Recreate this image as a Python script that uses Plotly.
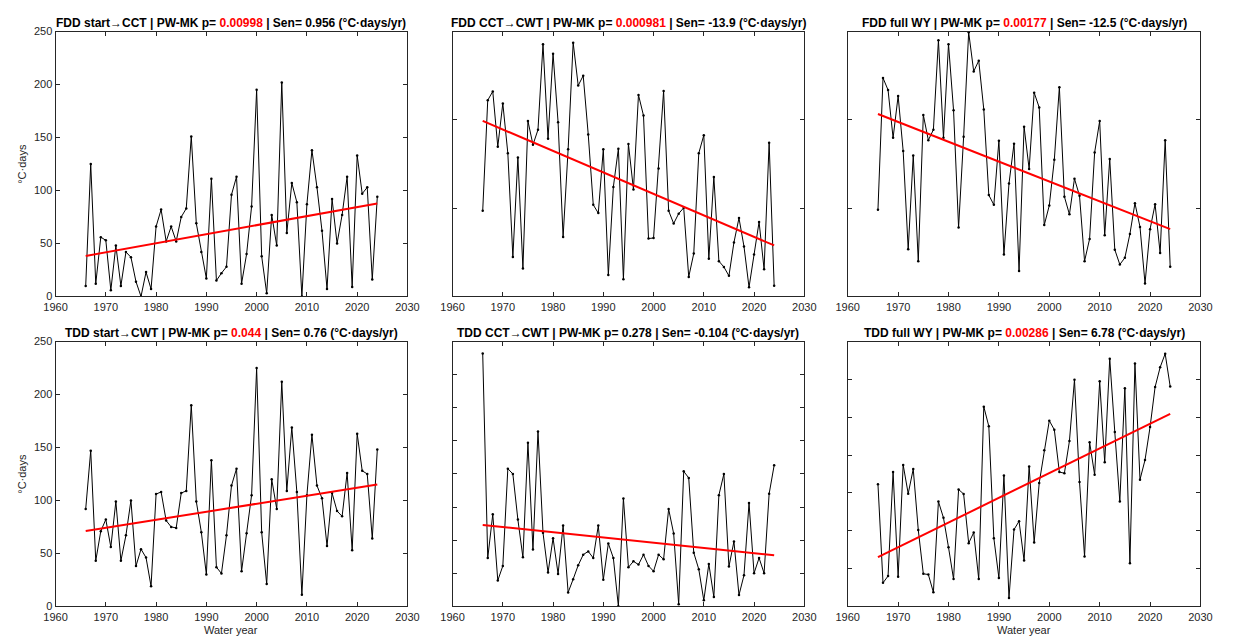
import plotly.graph_objects as go

# ---------------- data ----------------
years = list(range(1966, 2025))

fdd_start_cct = [10, 125, 12, 56, 53, 6, 48, 10, 42, 37,
                 14, 0, 23, 7, 66, 82, 52, 66, 52, 75,
                 83, 151, 69, 42, 17, 111, 15, 22, 28, 96,
                 113, 12, 40, 85,
                 195, 38, 3, 77, 48, 202, 60, 107, 89, 0,
                 87, 138, 103, 62, 7, 92, 50, 77, 113, 9,
                 133, 97, 103, 16, 94]

fdd_cct_cwt = [485, 1111, 1161, 848, 1093, 811, 224, 787, 159, 993,
               859, 944, 1428, 893, 1374, 987, 337, 833, 1437, 1194,
               1250, 917, 519, 472, 833, 122, 620, 837, 98, 863,
               606, 1141, 1024, 328,
               331, 724, 1163, 485, 413, 469, 502, 111, 243, 811,
               913, 213, 676, 200, 167, 117, 306, 444, 283, 52,
               237, 422, 154, 870, 61]

fdd_full_wy = [491, 1237, 1169, 898, 1135, 824, 268, 798, 200, 1028,
               885, 944, 1450, 898, 1428, 1054, 391, 904, 1496, 1274,
               1335, 1059, 574, 519, 882, 237, 639, 865, 144, 961,
               722, 1154, 1070, 404,
               515, 774, 1185, 565, 465, 667, 570, 200, 326, 815,
               993, 346, 778, 265, 181, 219, 354, 528, 394, 74,
               381, 522, 246, 885, 168]

tdd_start_cwt = [92, 147, 43, 71, 82, 56, 99, 43, 67, 100,
                 38, 54, 46, 19, 106, 108, 81, 75, 74, 107,
                 109, 190, 99, 70, 30, 138, 37, 31, 67, 114,
                 130, 33, 69, 105,
                 225, 70, 21, 120, 92, 212, 109, 169, 108, 11,
                 105, 162, 114, 102, 57, 107, 90, 85, 126, 53,
                 163, 128, 125, 64, 148]

tdd_cct_cwt = [38.2, 7.3, 13.9, 3.9, 6.1, 20.8, 20.0, 13.1, 7.4, 24.7,
               8.6, 26.4, 11.1, 5.1, 10.3, 4.9, 12.2, 2.1, 4.1, 6.2,
               7.8, 8.3, 7.3, 12.2, 4.0, 9.5, 7.3, 0.0, 16.3, 5.9,
               6.8, 6.3, 7.8, 6.1,
               5.3, 7.8, 7.1, 14.7, 11.0, 0.3, 20.4, 19.4, 8.1, 5.6,
               0.9, 6.4, 1.4, 16.8, 20.0, 6.0, 9.8, 1.7, 4.7, 15.6,
               5.0, 7.3, 5.0, 17.0, 21.3]

tdd_full_wy = [323, 62, 80, 355, 78, 374, 298, 363, 202, 86,
               84, 37, 277, 234, 156, 72, 309, 297, 167, 195,
               72, 528, 476, 180, 75, 346, 22, 203, 225, 121,
               370, 169, 326, 413,
               491, 467, 355, 352, 437, 599, 329, 132, 434, 348,
               595, 381, 655, 461, 277, 577, 114, 642, 335, 387,
               474, 580, 632, 668, 581]

# Sen trend line values at first and last water year
trend_fdd_start_cct = [38.3, 87.8]
trend_fdd_cct_cwt = [994, 289]
trend_fdd_full_wy = [1033, 381]
trend_tdd_start_cwt = [71.1, 115]
trend_tdd_cct_cwt = [12.3, 7.7]
trend_tdd_full_wy = [130, 509]

titles = ["FDD start\u2192CCT", "FDD CCT\u2192CWT", "FDD full WY",
          "TDD start\u2192CWT", "TDD CCT\u2192CWT", "TDD full WY"]
p_values = ["0.00998", "0.000981", "0.00177", "0.044", "0.278", "0.00286"]
p_significant = [True, True, True, True, False, True]
sen_slopes = ["0.956", "-13.9", "-12.5", "0.76", "-0.104", "6.78"]

x_ticks = [1960, 1970, 1980, 1990, 2000, 2010, 2020, 2030]
y_ranges = [[0, 250], [0, 1500], [0, 1500], [0, 250], [0, 40], [0, 700]]
y_dticks = [50, 500, 500, 50, 5, 100]

series = [fdd_start_cct, fdd_cct_cwt, fdd_full_wy,
          tdd_start_cwt, tdd_cct_cwt, tdd_full_wy]
trends = [trend_fdd_start_cct, trend_fdd_cct_cwt, trend_fdd_full_wy,
          trend_tdd_start_cwt, trend_tdd_cct_cwt, trend_tdd_full_wy]

# ---------------- layout geometry (pixels) ----------------
W, H = 1235, 644
col_px = [(44.4, 403.3), (449.3, 808.0), (852.3, 1212.0)]
row_px = [(26.0, 296.0), (342.0, 611.7)]

axis_col = "#262626"
font_family = "Liberation Sans, Arial, sans-serif"

fig = go.Figure()
layout = dict(
    width=W, height=H,
    margin=dict(l=0, r=0, t=0, b=0),
    paper_bgcolor="white", plot_bgcolor="white",
    showlegend=False,
    font=dict(family=font_family, size=11, color=axis_col),
)
annotations = []

for i in range(6):
    r, c = divmod(i, 3)
    k = "" if i == 0 else str(i + 1)
    x0, x1 = col_px[c]
    y0, y1 = row_px[r]
    xd = [x0 / W, x1 / W]
    yd = [1 - y1 / H, 1 - y0 / H]

    layout["xaxis" + k] = dict(
        domain=xd, anchor="y" + k, range=[1960, 2030],
        tickvals=x_ticks, ticktext=[str(t) for t in x_ticks],
        showline=True, linecolor=axis_col, linewidth=1, mirror="ticks",
        ticks="inside", ticklen=4, tickcolor=axis_col,
        showgrid=False, zeroline=False,
        tickfont=dict(size=11, color=axis_col),
    )
    layout["yaxis" + k] = dict(
        domain=yd, anchor="x" + k, range=y_ranges[i], dtick=y_dticks[i],
        tick0=0,
        showline=True, linecolor=axis_col, linewidth=1, mirror="ticks",
        ticks="inside", ticklen=4, tickcolor=axis_col,
        showgrid=False, zeroline=False,
        showticklabels=(c == 0),
        tickfont=dict(size=11, color=axis_col),
    )

    fig.add_trace(go.Scatter(
        x=years, y=series[i], mode="lines+markers",
        line=dict(color="black", width=1),
        marker=dict(color="black", size=2.5),
        xaxis="x" + k, yaxis="y" + k,
    ))
    fig.add_trace(go.Scatter(
        x=[years[0], years[-1]], y=trends[i], mode="lines",
        line=dict(color="red", width=2),
        xaxis="x" + k, yaxis="y" + k,
    ))

    pcol = "red" if p_significant[i] else "black"
    ttl = (f"<b>{titles[i]} | PW-MK p= <span style='color:{pcol}'>{p_values[i]}</span>"
           f" | Sen= {sen_slopes[i]} (\u00b0C\u00b7days/yr)</b>")
    annotations.append(dict(
        text=ttl, xref="paper", yref="paper",
        x=(x0 + x1) / 2 / W, y=1 - (y0 - 8.5) / H,
        xanchor="center", yanchor="middle", showarrow=False,
        font=dict(size=12, color="black", family=font_family),
    ))

    if c == 0:
        annotations.append(dict(
            text="\u00b0C\u00b7days", xref="paper", yref="paper",
            x=10 / W, y=1 - (y0 + y1) / 2 / H, textangle=-90,
            xanchor="center", yanchor="middle", showarrow=False,
            font=dict(size=11, color=axis_col, family=font_family),
        ))
    if r == 1 and c != 1:
        annotations.append(dict(
            text="Water year", xref="paper", yref="paper",
            x=(x0 + x1) / 2 / W, y=1 - 636 / H,
            xanchor="center", yanchor="middle", showarrow=False,
            font=dict(size=11, color=axis_col, family=font_family),
        ))

layout["annotations"] = annotations
fig.update_layout(**layout)
fig.write_html(
    "out.html",
    config={"displayModeBar": False},
    post_script="document.body.style.margin='0';document.body.style.overflow='hidden';",
)
